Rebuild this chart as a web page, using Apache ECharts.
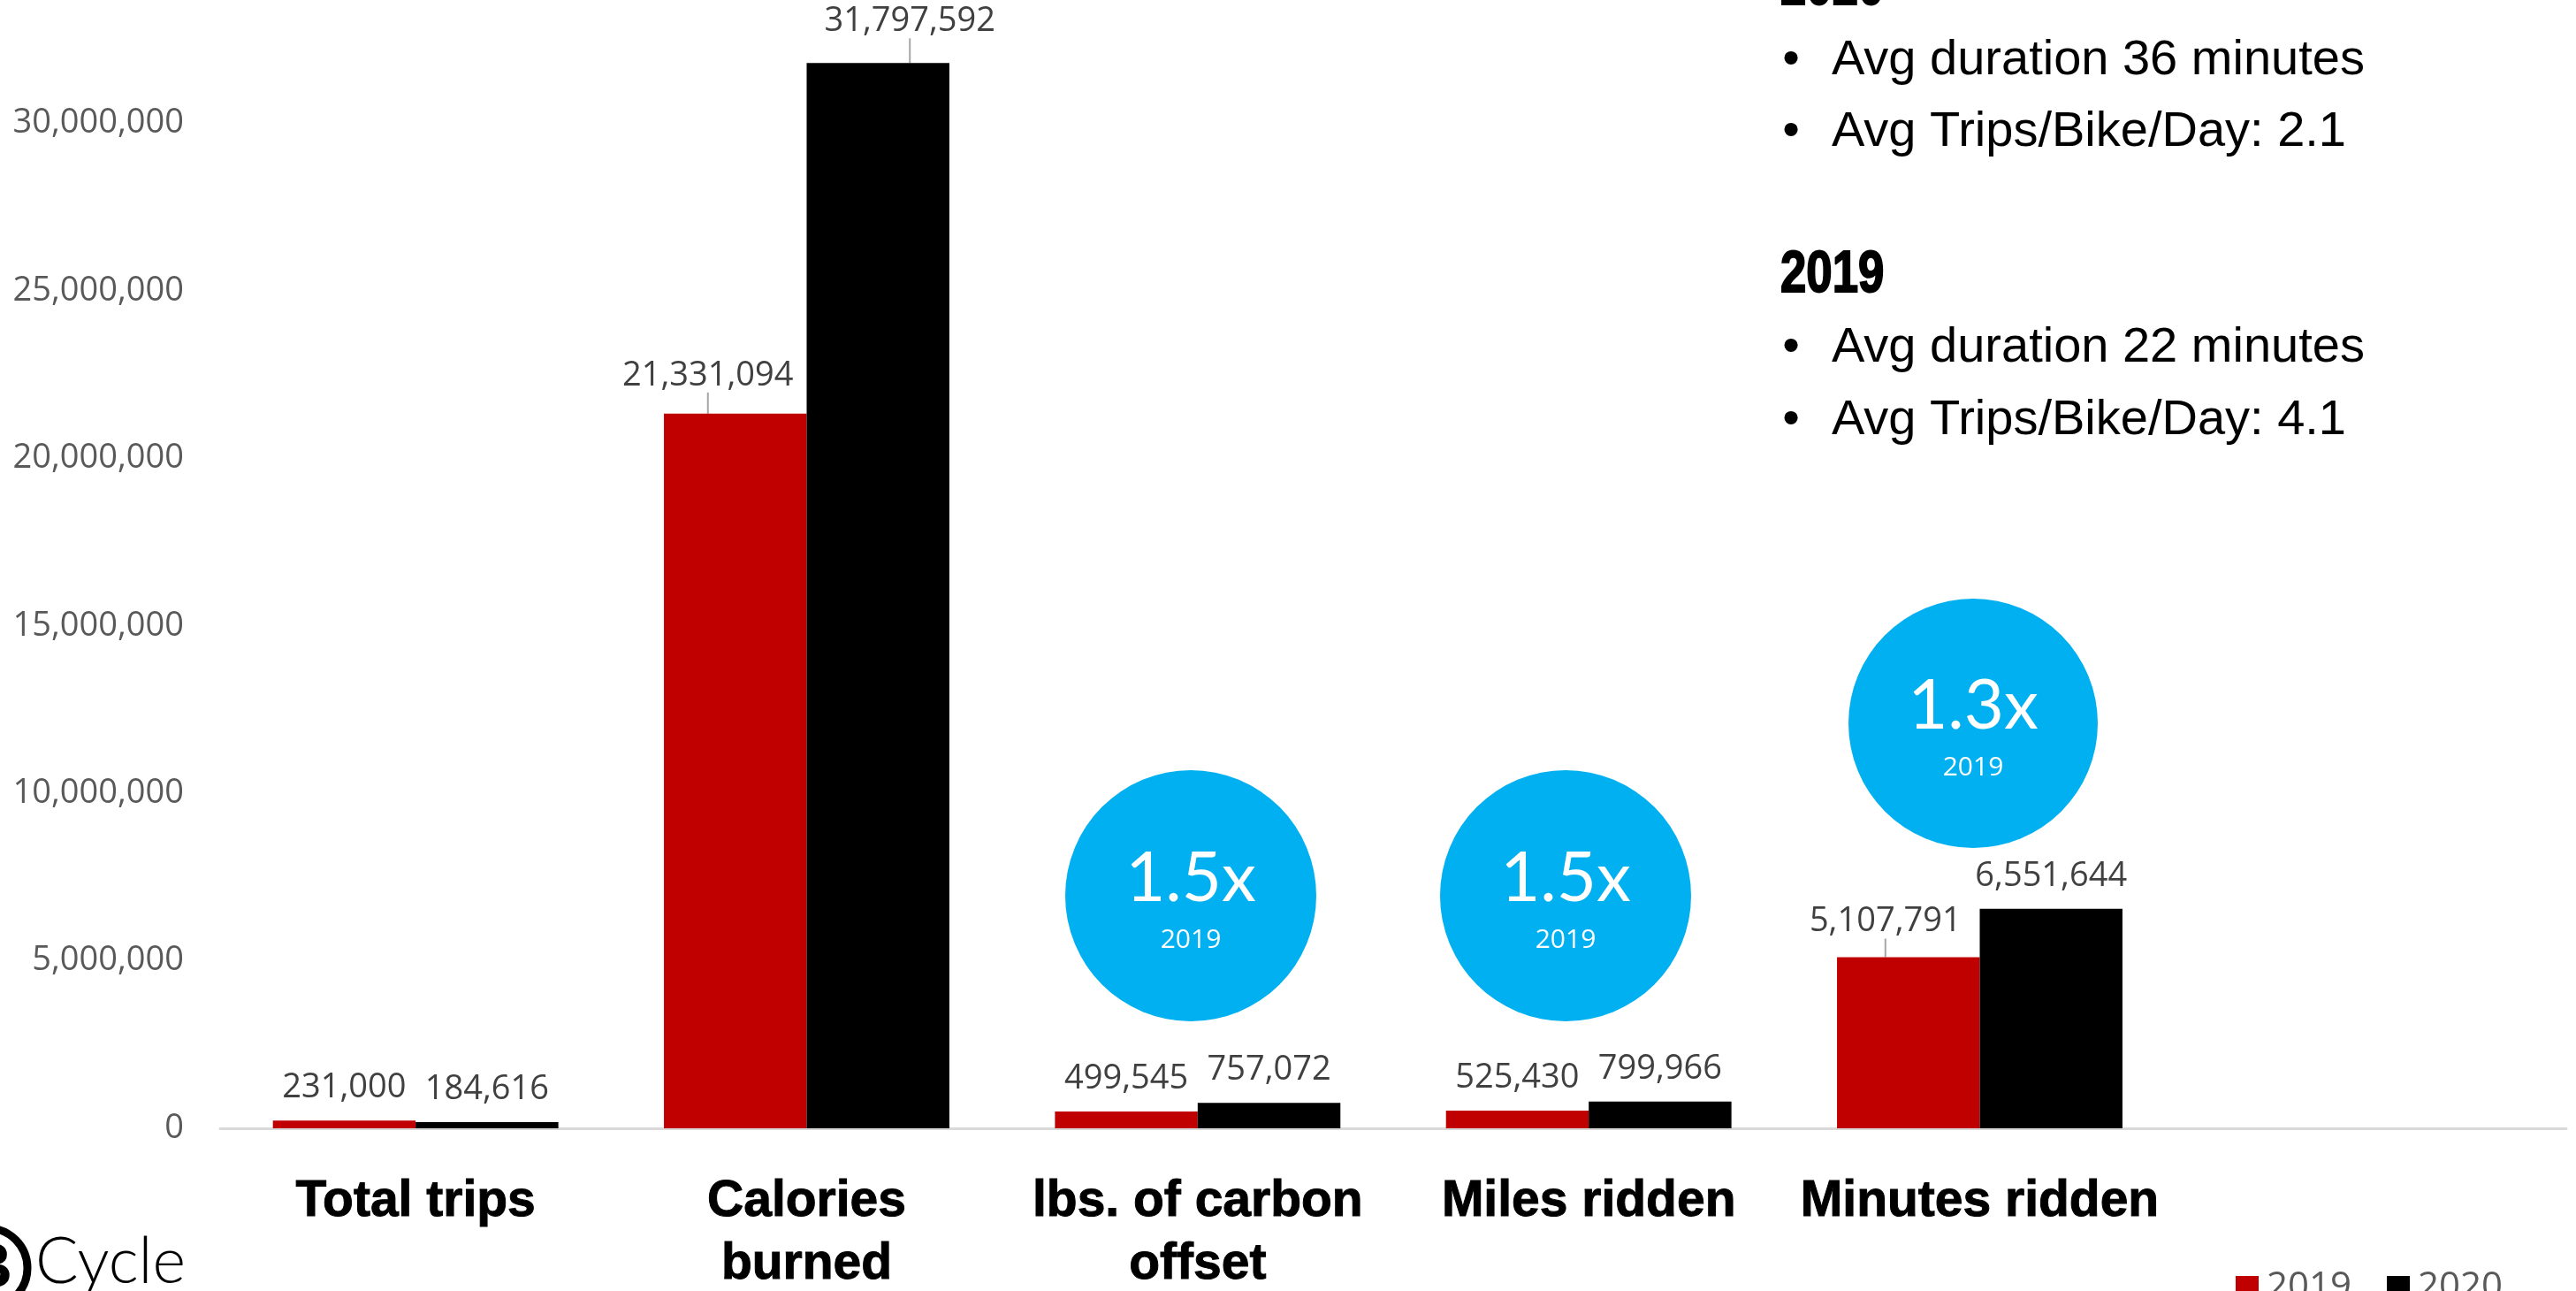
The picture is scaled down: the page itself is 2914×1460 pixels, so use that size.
<!DOCTYPE html>
<html>
<head>
<meta charset="utf-8">
<script src="https://cdn.jsdelivr.net/npm/echarts@6/dist/echarts.min.js"></script>
<style>
html,body{margin:0;padding:0;background:#ffffff;}
#chart{width:2914px;height:1460px;}
</style>
</head>
<body>
<div id="chart"></div>
<script>
// ---- data ----
const categories = ["Total trips", "Calories\nburned", "lbs. of carbon\noffset", "Miles ridden", "Minutes ridden", ""];
const seriesNames = ["2019", "2020"];
const values2019 = [231000, 21331094, 499545, 525430, 5107791, null];
const values2020 = [184616, 31797592, 757072, 799966, 6551644, null];
const yMin = 0;
const yMax = 35000000;
const yInterval = 5000000;
const multiplierTexts = ["1.5x", "1.5x", "1.3x"];
const multiplierBase = ["2019", "2019", "2019"];
const headings = ["2020", "2019"];
const notes2020 = ["Avg duration 36 minutes", "Avg Trips/Bike/Day: 2.1"];
const notes2019 = ["Avg duration 22 minutes", "Avg Trips/Bike/Day: 4.1"];
const logoText = "Cycle";
const logoInitial = "B";

// ---- layout (label nudges for leader-lined labels) ----
const labelShift2019 = [[0,0],[-31,-6],[0,0],[0,0],[-26,-3],[0,0]];
const labelShift2020 = [[0,0],[36,-10],[0,0],[0,0],[0,0],[0,0]];

const fmt = v => (v == null ? '' : Number(v).toLocaleString('en-US'));

function buildData(values, shift) {
  return values.map((v, i) => ({
    value: v,
    labelLine: { show: !!(shift[i][0] || shift[i][1]) }
  }));
}

const labelStyle = {
  show: true,
  position: 'top',
  distance: 18,
  formatter: p => fmt(p.value),
  fontSize: 38,
  color: '#404040',
  fontFamily: 'Open Sans, sans-serif'
};

const chart = echarts.init(document.getElementById('chart'), null, { renderer: 'canvas' });

// annotation circles
const circles = [
  { cx: 1347, cy: 1013, r: 142 },
  { cx: 1771, cy: 1013, r: 142 },
  { cx: 2232, cy: 818, r: 141 }
];
const graphics = [];
circles.forEach((c, i) => {
  graphics.push({ type: 'circle', shape: { cx: c.cx, cy: c.cy, r: c.r }, style: { fill: '#00B0F0' }, z: 10 });
  graphics.push({ type: 'text', x: c.cx, y: c.cy - 19, z: 11,
    style: { text: multiplierTexts[i], fill: '#ffffff', fontSize: 78, fontWeight: 'normal',
      fontFamily: 'Lato, Open Sans, sans-serif', textAlign: 'center', textVerticalAlign: 'middle' } });
  graphics.push({ type: 'text', x: c.cx, y: c.cy + 50, z: 11,
    style: { text: multiplierBase[i], fill: '#ffffff', fontSize: 30,
      fontFamily: 'Open Sans, sans-serif', textAlign: 'center', textVerticalAlign: 'middle' } });
});

// right-hand notes panel
const headFont = { fontSize: 66, fontWeight: 900, fontFamily: "'Liberation Sans', sans-serif", fill: '#000' };
const noteFont = { fontSize: 56, fontFamily: "'Liberation Sans', sans-serif", fill: '#000' };
const panel = [
  { kind: 'head', text: headings[0], y: -13 },
  { kind: 'note', text: notes2020[0], y: 69 },
  { kind: 'note', text: notes2020[1], y: 150 },
  { kind: 'head', text: headings[1], y: 312 },
  { kind: 'note', text: notes2019[0], y: 394 },
  { kind: 'note', text: notes2019[1], y: 476 }
];
panel.forEach(row => {
  if (row.kind === 'head') {
    graphics.push({ type: 'text', x: 2014, y: row.y, scaleX: 0.8,
      style: Object.assign({ text: row.text, textAlign: 'left', textVerticalAlign: 'middle',
        stroke: '#000', lineWidth: 2 }, headFont) });
  } else {
    graphics.push({ type: 'text', x: 2026, y: row.y,
      style: Object.assign({ text: '\u2022', textAlign: 'center', textVerticalAlign: 'middle' }, noteFont) });
    graphics.push({ type: 'text', x: 2072, y: row.y,
      style: Object.assign({ text: row.text, textAlign: 'left', textVerticalAlign: 'middle' }, noteFont) });
  }
});

// logo
graphics.push({ type: 'circle', shape: { cx: -14, cy: 1434, r: 45 }, style: { fill: 'none', stroke: '#000', lineWidth: 9 } });
graphics.push({ type: 'text', x: -12, y: 1436,
  style: { text: logoInitial, fill: '#000', fontSize: 72, fontWeight: 'bold', fontFamily: "'Liberation Sans', sans-serif",
    textAlign: 'center', textVerticalAlign: 'middle' } });
graphics.push({ type: 'text', x: 40, y: 1428,
  style: { text: logoText, fill: '#000', fontSize: 72, fontWeight: 300, fontFamily: 'Lato, sans-serif',
    textAlign: 'left', textVerticalAlign: 'middle' } });

const option = {
  animation: false,
  backgroundColor: '#ffffff',
  grid: { left: 249, right: 11, top: -50, bottom: 184, containLabel: false, outerBoundsMode: 'none' },
  legend: {
    data: seriesNames,
    left: 2524,
    top: 1430,
    icon: 'rect',
    itemWidth: 26,
    itemHeight: 26,
    itemGap: 40,
    textStyle: { fontSize: 42, color: '#595959', fontFamily: 'Open Sans, sans-serif', padding: [0, 0, 0, 4] }
  },
  xAxis: {
    type: 'category',
    data: categories,
    axisLine: { show: true, lineStyle: { color: '#D9D9D9', width: 3 } },
    axisTick: { show: false },
    axisLabel: {
      interval: 0,
      margin: 48,
      fontSize: 57,
      lineHeight: 71,
      fontWeight: 'bold',
      fontFamily: "'Liberation Sans', sans-serif",
      color: '#000000',
      textBorderColor: '#000000',
      textBorderWidth: 1
    }
  },
  yAxis: {
    type: 'value',
    min: yMin,
    max: yMax,
    interval: yInterval,
    splitLine: { show: false },
    axisLine: { show: false },
    axisTick: { show: false },
    axisLabel: {
      formatter: v => fmt(v),
      fontSize: 38,
      margin: 41,
      color: '#595959',
      fontFamily: 'Open Sans, sans-serif'
    }
  },
  series: [
    {
      name: seriesNames[0],
      type: 'bar',
      data: buildData(values2019, labelShift2019),
      barWidth: '36.5%',
      barGap: '0%',
      itemStyle: { color: '#C00000' },
      label: labelStyle,
      labelLine: { lineStyle: { color: '#A6A6A6', width: 2 } },
      labelLayout: p => ({ dx: labelShift2019[p.dataIndex][0], dy: labelShift2019[p.dataIndex][1] })
    },
    {
      name: seriesNames[1],
      type: 'bar',
      data: buildData(values2020, labelShift2020),
      barWidth: '36.5%',
      barGap: '0%',
      itemStyle: { color: '#000000' },
      label: labelStyle,
      labelLine: { lineStyle: { color: '#A6A6A6', width: 2 } },
      labelLayout: p => ({ dx: labelShift2020[p.dataIndex][0], dy: labelShift2020[p.dataIndex][1] })
    }
  ],
  graphic: { elements: graphics }
};

chart.setOption(option);
</script>
</body>
</html>
